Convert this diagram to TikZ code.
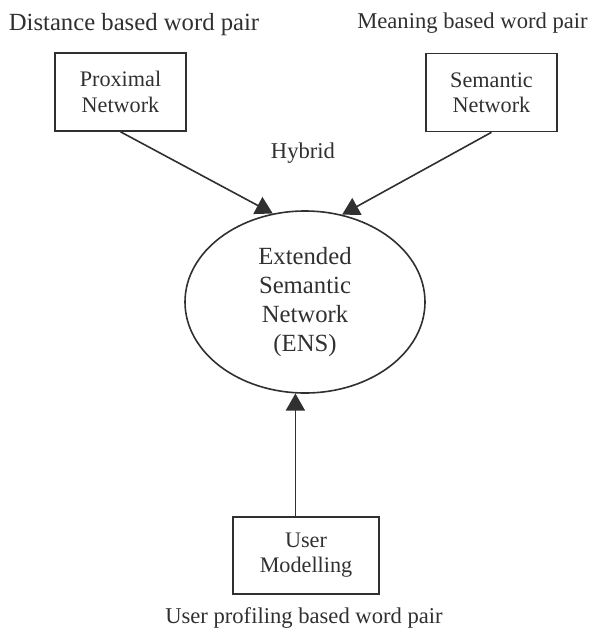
\documentclass[tikz,border=0pt]{standalone}
\usepackage{fontspec}
\setmainfont{Liberation Serif}
\usetikzlibrary{arrows.meta, shapes.geometric}
\definecolor{ink}{HTML}{303030}

\begin{document}
\begin{tikzpicture}[x = 0.5pt, y = -0.5pt, color = ink,
	netbox/.style = {draw, line width = 0.8pt, align = center, inner sep = 0pt,
		minimum width = 65.5pt, minimum height = 39pt,
		font = \fontsize{11.1}{12.6}\selectfont},
	caption/.style = {font = \fontsize{11.3}{13}\selectfont},
	arr/.style = {line width = 0.8pt, -{Triangle[length = 8.5pt, width = 9.5pt]}}]
	\useasboundingbox (0,0) rectangle (592,633);

	% networks
	\node [netbox] (prox) at (120.5,92) {Proximal\\Network};
	\node [netbox] (sem) at (491.5,92.5) {Semantic\\Network};
	\node [netbox, minimum width = 73pt, minimum height = 38.5pt] (user) at (306,555.5) {User\\Modelling};
	\node [draw, ellipse, line width = 0.8pt, inner sep = 0pt, align = center,
		minimum width = 120pt, minimum height = 91pt,
		font = \fontsize{12.35}{14.4}\selectfont] (ens) at (305,302)
		{Extended\\Semantic\\Network\\(ENS)};

	% word pair captions
	\node [font = \fontsize{12.35}{14}\selectfont] (dist) at (134,25) {Distance based word pair};
	\node [caption] (mean) at (472.5,23) {Meaning based word pair};
	\node [caption] (prof) at (304,618) {User profiling based word pair};
	\node [caption] (hyb) at (303,153) {Hybrid};

	\draw [arr] (prox.south) -- (ens.110);
	\draw [arr] (sem.south) -- (ens.67);
	\draw [arr] (ens.264 |- user.north) -- (ens.264);
\end{tikzpicture}
\end{document}
